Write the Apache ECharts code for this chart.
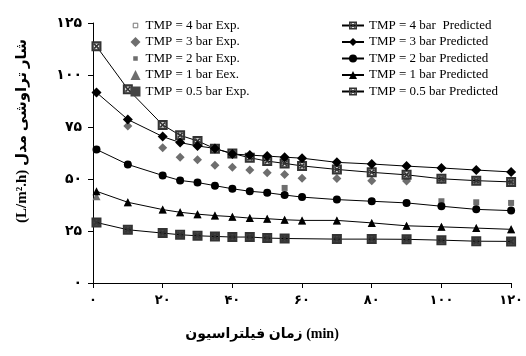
<!DOCTYPE html>
<html>
<head>
<meta charset="utf-8">
<script src="https://cdn.jsdelivr.net/npm/echarts@6/dist/echarts.min.js"></script>
<style>html,body{margin:0;padding:0;background:#fff}#c{width:526px;height:356px}</style>
</head>
<body>
<div id="c"></div>
<script>
// ---- data ----
var time = [1, 10, 20, 25, 30, 35, 40, 45, 50, 55, 60, 70, 80, 90, 100, 110, 120];
var exp4  = [113.8, 93.2, 76.0, 71.0, 68.3, 64.6, 62.3, 60.2, 58.6, 57.5, 56.3, 54.6, 53.2, 52.0, 50.1, 49.2, 48.6];
var exp3  = [91.6, 75.5, 65.0, 60.5, 59.3, 56.6, 55.7, 54.3, 53.0, 52.2, 50.4, 50.3, 49.2, 49.0, 49.8, 49.2, 48.6];
var exp2  = [64.2, 57.0, 51.7, 49.3, 48.3, 46.8, 45.3, 44.1, 43.4, 45.7, 41.3, 40.1, 39.3, 38.5, 39.3, 38.8, 38.5];
var exp1  = [41.7, 38.8, 35.3, 34.0, 33.1, 32.4, 31.9, 31.2, 30.9, 30.4, 30.1, 30.1, 28.9, 27.5, 27.0, 26.4, 25.8];
var exp05 = [29.1, 25.6, 24.0, 23.2, 22.7, 22.4, 22.1, 22.1, 21.6, 21.4, null, 21.1, 21.1, 21.0, 20.6, 20.1, 20.0];
var pred4  = [113.8, 93.2, 76.0, 71.0, 68.3, 64.6, 62.3, 60.2, 58.6, 57.5, 56.3, 54.6, 53.2, 52.0, 50.1, 49.2, 48.6];
var pred3  = [91.6, 78.6, 70.4, 67.5, 65.9, 64.7, 62.0, 61.5, 61.0, 60.5, 60.0, 58.0, 57.2, 56.2, 55.3, 54.3, 53.4];
var pred2  = [64.2, 57.0, 51.7, 49.3, 48.3, 46.8, 45.3, 44.1, 43.4, 42.3, 41.3, 40.1, 39.3, 38.5, 36.9, 35.4, 34.8];
var pred1  = [44.1, 38.8, 35.3, 34.0, 33.1, 32.4, 31.9, 31.2, 30.9, 30.4, 30.1, 30.1, 28.9, 27.5, 27.0, 26.4, 25.8];
var pred05 = [29.1, 25.6, 24.0, 23.2, 22.7, 22.4, 22.1, 22.1, 21.6, 21.4, null, 21.1, 21.1, 21.0, 20.6, 20.1, 20.0];
var xTickValues = [0, 20, 40, 60, 80, 100, 120];
var xTickLabels = ['۰', '۲۰', '۴۰', '۶۰', '۸۰', '۱۰۰', '۱۲۰'];
var yTickValues = [0, 25, 50, 75, 100, 125];
var yTickLabels = ['۰', '۲۵', '۵۰', '۷۵', '۱۰۰', '۱۲۵'];
var expNames = ['TMP = 4 bar Exp.', 'TMP = 3 bar Exp.', 'TMP = 2 bar Exp.', 'TMP = 1 bar Eex.', 'TMP = 0.5 bar Exp.'];
var predNames = ['TMP = 4 bar  Predicted', 'TMP = 3 bar Predicted', 'TMP = 2 bar Predicted', 'TMP = 1 bar Predicted', 'TMP = 0.5 bar Predicted'];
var xTitle = 'زمان فیلتراسیون (min)';
var yTitle = '(L/m².h) شار تراوشی مدل';

function pairs(ys) { return time.map(function (t, i) { return [t, ys[i]]; }); }
var XSQ = 'path://M0,0L10,0L10,10L0,10Z M2,2L2,8L8,8L8,2Z M2,3.2L3.2,2L8,6.8L6.8,8Z M6.8,2L8,3.2L3.2,8L2,6.8Z';
var SMALLSQ = 'path://M-3,-3L-3,-3Z M0,0L5,0L5,5L0,5Z M8,8L8,8Z';
var serif = "'Liberation Serif', 'DejaVu Serif', 'DejaVu Sans'";

var chart = echarts.init(document.getElementById('c'), null, {renderer: 'canvas'});
var option = {
  animation: false,
  backgroundColor: '#fff',
  grid: {left: 93, right: 13, top: 23, bottom: 73},
  xAxis: {
    type: 'value', min: 0, max: 120, interval: 20,
    axisLine: {show: true, lineStyle: {color: '#000', width: 1}},
    axisTick: {show: true, inside: false, length: 5, lineStyle: {color: '#000'}},
    splitLine: {show: false},
    axisLabel: {
      margin: 11, color: '#000', fontSize: 13, fontWeight: 'bold', fontFamily: serif,
      formatter: function (v) { var i = xTickValues.indexOf(v); return i >= 0 ? xTickLabels[i] : ''; }
    }
  },
  yAxis: {
    type: 'value', min: 0, max: 125, interval: 25,
    axisLine: {show: true, lineStyle: {color: '#000', width: 1}},
    axisTick: {show: true, inside: false, length: 5, lineStyle: {color: '#000'}},
    splitLine: {show: false},
    axisLabel: {
      margin: 11, color: '#000', fontSize: 14, fontWeight: 'bold', fontFamily: serif,
      formatter: function (v) { var i = yTickValues.indexOf(v); return i >= 0 ? yTickLabels[i] : ''; }
    }
  },
  legend: [
    {
      data: [
        {name: expNames[0], icon: SMALLSQ, itemStyle: {color: '#fff', borderColor: '#777', borderWidth: 1}},
        {name: expNames[1], icon: 'diamond'},
        {name: expNames[2], icon: SMALLSQ},
        {name: expNames[3], icon: 'triangle'},
        {name: expNames[4], icon: 'rect'}
      ],
      orient: 'vertical', left: 125, top: 14, itemWidth: 10, itemHeight: 10, itemGap: 3.5,
      textStyle: {fontFamily: serif, fontSize: 13, color: '#000'}
    },
    {
      data: predNames,
      orient: 'vertical', left: 336, top: 14, itemWidth: 22, itemHeight: 10, itemGap: 3.5,
      textStyle: {fontFamily: serif, fontSize: 13, color: '#000'}
    }
  ],
  graphic: [
    {
      type: 'text', x: 22, y: 131, rotation: Math.PI / 2,
      style: {text: yTitle, fontSize: 15, fontWeight: 'bold', fontFamily: serif, fill: '#000',
              textAlign: 'center', textVerticalAlign: 'middle'}
    },
    {
      type: 'text', x: 262, y: 334,
      style: {text: xTitle, fontSize: 14, fontWeight: 'bold', fontFamily: serif, fill: '#000',
              textAlign: 'center', textVerticalAlign: 'middle'}
    }
  ],
  series: [
    {name: expNames[0], type: 'scatter', data: pairs(exp4), symbol: 'rect', symbolSize: 6,
     itemStyle: {color: '#fff', borderColor: '#888', borderWidth: 1, opacity: 1}, z: 2},
    {name: expNames[1], type: 'scatter', data: pairs(exp3), symbol: 'diamond', symbolSize: 9,
     itemStyle: {color: '#6e6e6e', opacity: 1}, z: 2},
    {name: expNames[2], type: 'scatter', data: pairs(exp2), symbol: 'rect', symbolSize: 6,
     itemStyle: {color: '#6e6e6e', opacity: 1}, z: 2},
    {name: expNames[3], type: 'scatter', data: pairs(exp1), symbol: 'triangle', symbolSize: 8,
     itemStyle: {color: '#6e6e6e', opacity: 1}, z: 2},
    {name: expNames[4], type: 'scatter', data: pairs(exp05), symbol: 'rect', symbolSize: 7,
     itemStyle: {color: '#444', opacity: 1}, z: 2},
    {name: predNames[0], type: 'line', data: pairs(pred4), symbol: XSQ, symbolSize: 10, showAllSymbol: true,
     connectNulls: true, lineStyle: {color: '#000', width: 1}, itemStyle: {color: '#333', opacity: 1}, z: 3},
    {name: predNames[1], type: 'line', data: pairs(pred3), symbol: 'diamond', symbolSize: 10, showAllSymbol: true,
     connectNulls: true, lineStyle: {color: '#000', width: 1}, itemStyle: {color: '#000', opacity: 1}, z: 3},
    {name: predNames[2], type: 'line', data: pairs(pred2), symbol: 'circle', symbolSize: 8, showAllSymbol: true,
     connectNulls: true, lineStyle: {color: '#000', width: 1}, itemStyle: {color: '#000', opacity: 1}, z: 3},
    {name: predNames[3], type: 'line', data: pairs(pred1), symbol: 'triangle', symbolSize: 8, showAllSymbol: true,
     connectNulls: true, lineStyle: {color: '#000', width: 1}, itemStyle: {color: '#000', opacity: 1}, z: 3},
    {name: predNames[4], type: 'line', data: pairs(pred05), symbol: XSQ, symbolSize: 10, showAllSymbol: true,
     connectNulls: true, lineStyle: {color: '#000', width: 1}, itemStyle: {color: '#333', opacity: 1}, z: 3}
  ]
};
chart.setOption(option);
</script>
</body>
</html>
